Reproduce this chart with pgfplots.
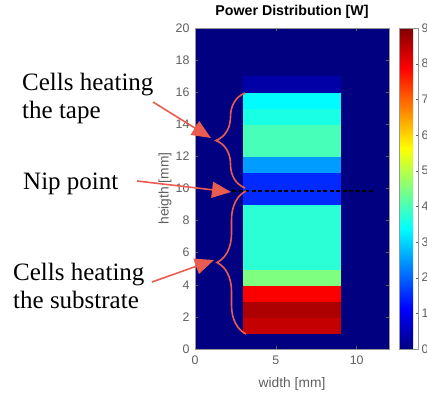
\documentclass[border=0pt]{standalone}
\usepackage{pgfplots}
\pgfplotsset{compat=1.18}
\usepgfplotslibrary{patchplots}
\usetikzlibrary{arrows.meta,decorations.pathreplacing}
\usepackage{fontspec}
\setmainfont{Liberation Sans}
\newfontfamily\annfont{Liberation Serif}
\definecolor{tickgray}{RGB}{95,95,95}
\definecolor{framegray}{RGB}{150,150,150}
\definecolor{annred}{RGB}{234,92,80}
\pgfplotstableread{
x y c
0 0 0
12 0 0
12 20 0
0 20 0
3 1 8.4
9 1 8.4
9 2 8.4
3 2 8.4
3 2 8.6
9 2 8.6
9 3 8.6
3 3 8.6
3 3 7.9
9 3 7.9
9 4 7.9
3 4 7.9
3 4 4.5
9 4 4.5
9 5 4.5
3 5 4.5
3 5 3.75
9 5 3.75
9 9 3.75
3 9 3.75
3 9 1.5
9 9 1.5
9 11 1.5
3 11 1.5
3 11 2.5
9 11 2.5
9 12 2.5
3 12 2.5
3 12 4.0
9 12 4.0
9 14 4.0
3 14 4.0
3 14 3.6
9 14 3.6
9 15 3.6
3 15 3.6
3 15 3.35
9 15 3.35
9 16 3.35
3 16 3.35
3 16 0.35
9 16 0.35
9 17 0.35
3 17 0.35
}\cells
\begin{document}
\begin{tikzpicture}[x=1pt,y=1pt]
\useasboundingbox (0,0) rectangle (427,394);
\begin{axis}[
  at={(195pt,45pt)}, anchor=south west,
  width=194pt, height=321pt, scale only axis,
  xmin=0, xmax=12, ymin=0, ymax=20,
  xtick={0,5,10}, ytick={0,2,...,20},
  tick align=inside, major tick length=3pt,
  axis on top,
  axis line style={framegray, line width=0.6pt},
  tick style={tickgray, line width=0.5pt},
  /pgf/number format/assume math mode=true,
  tick label style={font=\fontsize{12.4}{14}\selectfont, text=tickgray},
  yticklabel style={xshift=-2pt},
  xticklabel style={yshift=-3pt},
  colormap/jet,
  point meta min=0, point meta max=9,
  colorbar,
  colorbar shift/.style={xshift=10pt},
  colorbar style={
    at={(parent axis.north east)}, anchor=north west,
    width=19pt, height=321pt, scale only axis,
    ytick={0,1,...,9},
    ytick pos=right, yticklabel pos=right,
    tick align=inside, major tick length=2.5pt,
    axis line style={framegray, line width=0.6pt},
    tick style={tickgray},
    /pgf/number format/assume math mode=true,
    yticklabel style={font=\fontsize{12.4}{14}\selectfont, text=tickgray},
  },
  title={\bfseries Power Distribution [W]},
  title style={font=\fontsize{14.2}{16}\selectfont, at={(axis description cs:0.5,1)}, anchor=south, yshift=0pt},
  xlabel={width [mm]},
  ylabel={heigth [mm]},
  every axis x label/.style={at={(axis description cs:0.5,-0.109)}, anchor=center, font=\fontsize{13.8}{15}\selectfont, text=tickgray},
  every axis y label/.style={at={(axis description cs:-0.155,0.5)}, anchor=center, rotate=90, font=\fontsize{13.8}{15}\selectfont, text=tickgray},
]
\addplot[patch, patch type=rectangle, shader=flat, point meta=explicit]
  table[x=x, y=y, meta=c] {\cells};
\addplot[black, line width=1.3pt, dash pattern=on 4pt off 2.5pt] coordinates {(2.3,9.84) (11,9.84)};
\end{axis}
% annotations
\begin{scope}[annred, line width=1.6pt]
\draw[decorate, decoration={brace, amplitude=29pt}] (245,206) -- (245,301);
\draw[decorate, decoration={brace, amplitude=29pt}] (246,60) -- (246,203);
\draw[-{Triangle[length=19pt,width=16pt]}] (153,292) -- (211,256);
\draw[-{Triangle[length=19pt,width=16pt]}] (137,213) -- (231,202);
\draw[-{Triangle[length=19pt,width=16pt]}] (152,112) -- (214,134);
\end{scope}
\begin{scope}[every node/.style={inner sep=0pt, anchor=base west, font=\annfont\fontsize{25}{28}\selectfont, text=black}]
\node at (22,303) {Cells heating};
\node at (22,276) {the tape};
\node at (23,205) {Nip point};
\node at (13,114) {Cells heating};
\node at (13,86) {the substrate};
\end{scope}
\end{tikzpicture}
\end{document}
